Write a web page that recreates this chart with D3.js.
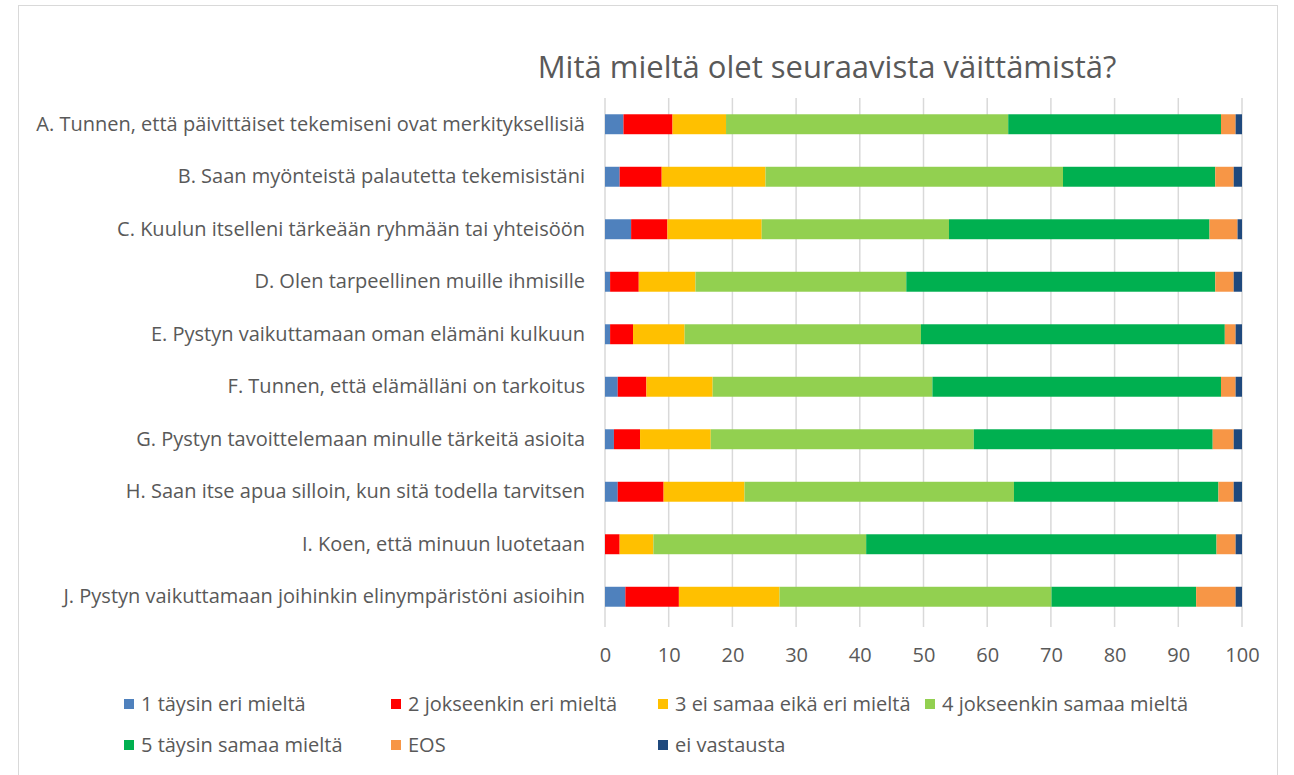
<!DOCTYPE html>
<html lang="fi">
<head>
<meta charset="utf-8">
<title>Mitä mieltä olet seuraavista väittämistä?</title>
<script src="https://d3js.org/d3.v7.min.js"></script>
<style>
  body { margin: 0; background: #fff; }
  text { font-family: "Open Sans", sans-serif; fill: #595959; }
</style>
</head>
<body>
<script>
// väittämät
const categories = [
  "A. Tunnen, että päivittäiset tekemiseni ovat merkityksellisiä",
  "B. Saan myönteistä palautetta tekemisistäni",
  "C. Kuulun itselleni tärkeään ryhmään tai yhteisöön",
  "D. Olen tarpeellinen muille ihmisille",
  "E. Pystyn vaikuttamaan oman elämäni kulkuun",
  "F. Tunnen, että elämälläni on tarkoitus",
  "G. Pystyn tavoittelemaan minulle tärkeitä asioita",
  "H. Saan itse apua silloin, kun sitä todella tarvitsen",
  "I. Koen, että minuun luotetaan",
  "J. Pystyn vaikuttamaan joihinkin elinympäristöni asioihin"
];

const seriesNames = [
  "1 täysin eri mieltä",
  "2 jokseenkin eri mieltä",
  "3 ei samaa eikä eri mieltä",
  "4 jokseenkin samaa mieltä",
  "5 täysin samaa mieltä",
  "EOS",
  "ei vastausta"
];
const seriesColors = ["#4F81BD", "#FF0000", "#FFC000", "#92D050", "#00B050", "#F79646", "#1F497D"];

// prosentit, yksi taulukko per vastausvaihtoehto (A..J)
const s1 = [2.9, 2.3, 4.1, 0.8, 0.8, 2.0, 1.4, 2.0, 0.0, 3.2];
const s2 = [7.7, 6.6, 5.7, 4.5, 3.6, 4.5, 4.1, 7.2, 2.3, 8.4];
const s3 = [8.4, 16.3, 14.8, 8.9, 8.1, 10.4, 11.1, 12.7, 5.3, 15.8];
const s4 = [44.3, 46.7, 29.4, 33.1, 37.1, 34.5, 41.3, 42.3, 33.4, 42.7];
const s5 = [33.4, 23.9, 40.9, 48.5, 47.7, 45.3, 37.5, 32.1, 55.0, 22.7];
const eos = [2.3, 2.9, 4.4, 2.9, 1.7, 2.3, 3.3, 2.4, 3.0, 6.2];
const eiVastausta = [1.0, 1.3, 0.7, 1.3, 1.0, 1.0, 1.3, 1.3, 1.0, 1.0];

const xTicks = [0, 10, 20, 30, 40, 50, 60, 70, 80, 90, 100];

const w = 1294, h = 775;
const plotLeft = 605, plotRight = 1242, plotTop = 98, plotBottom = 623;

const allSeries = [s1, s2, s3, s4, s5, eos, eiVastausta];
const rows = categories.map((c, i) => {
  const r = { cat: c };
  seriesNames.forEach((s, j) => { r[s] = allSeries[j][i]; });
  return r;
});
const stacked = d3.stack().keys(seriesNames)(rows);

const x = d3.scaleLinear().domain([0, 100]).range([plotLeft, plotRight]);
const y = d3.scaleBand().domain(categories).range([plotTop, plotBottom]).paddingInner(0.62).paddingOuter(0.31);
const color = d3.scaleOrdinal().domain(seriesNames).range(seriesColors);

const svg = d3.select("body").append("svg")
  .attr("width", w)
  .attr("height", h);

// kehys
svg.append("rect")
  .attr("x", 18.5).attr("y", 5.5)
  .attr("width", 1259).attr("height", 800)
  .attr("fill", "none")
  .attr("stroke", "#d9d9d9");

svg.append("text")
  .attr("x", 827)
  .attr("y", 78)
  .attr("text-anchor", "middle")
  .attr("font-size", 31)
  .text("Mitä mieltä olet seuraavista väittämistä?");

// ruudukko
svg.append("g")
  .selectAll("line")
  .data(xTicks)
  .join("line")
  .attr("x1", d => x(d)).attr("x2", d => x(d))
  .attr("y1", plotTop).attr("y2", plotBottom + 4)
  .attr("stroke", "#d9d9d9")
  .attr("stroke-width", 1.5);

svg.append("g")
  .selectAll("g")
  .data(stacked)
  .join("g")
  .attr("fill", d => color(d.key))
  .selectAll("rect")
  .data(d => d)
  .join("rect")
  .attr("x", d => x(d[0]))
  .attr("y", d => y(d.data.cat))
  .attr("width", d => x(d[1]) - x(d[0]))
  .attr("height", y.bandwidth());

// akselit
const xAxis = d3.axisBottom(x).tickValues(xTicks).tickSize(0).tickPadding(25);
const gx = svg.append("g").attr("transform", "translate(0," + plotBottom + ")").call(xAxis);
gx.select(".domain").remove();
gx.selectAll("text").attr("font-size", 20).attr("fill", "#595959").attr("font-family", "Open Sans");

const yAxis = d3.axisLeft(y).tickSize(0).tickPadding(20);
const gy = svg.append("g").attr("transform", "translate(" + plotLeft + ",0)").call(yAxis);
gy.select(".domain").remove();
gy.selectAll("text").attr("font-size", 20).attr("fill", "#595959").attr("font-family", "Open Sans");

// selite
const legend = svg.append("g")
  .selectAll("g")
  .data(seriesNames)
  .join("g")
  .attr("transform", (d, i) => "translate(" + (124 + (i % 4) * 267) + "," + (704 + Math.floor(i / 4) * 41) + ")");

legend.append("rect")
  .attr("x", 0).attr("y", -5)
  .attr("width", 10).attr("height", 10)
  .attr("fill", d => color(d));

legend.append("text")
  .attr("x", 17)
  .attr("dy", "0.35em")
  .attr("font-size", 20)
  .text(d => d);
</script>
</body>
</html>
